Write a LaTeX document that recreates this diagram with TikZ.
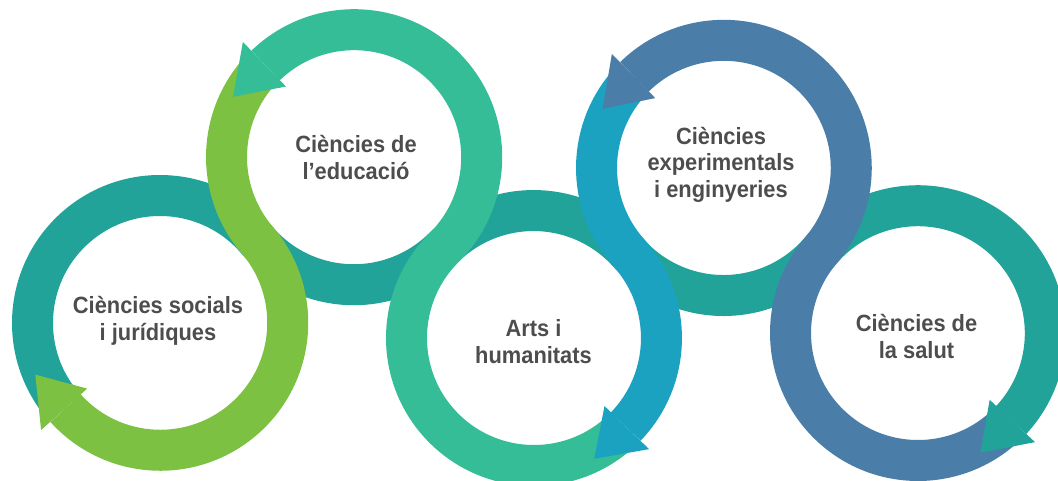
\documentclass[tikz,border=0pt]{standalone}
\usepackage{fontspec}
\newfontfamily\labfont{Liberation Sans}[FakeStretch=0.93]
\usetikzlibrary{calc}
\definecolor{cteal}{RGB}{33,163,154}
\definecolor{cgreen}{RGB}{125,193,66}
\definecolor{cmint}{RGB}{52,189,151}
\definecolor{ccyan}{RGB}{28,162,193}
\definecolor{csteel}{RGB}{75,125,169}
\definecolor{ctext}{RGB}{77,77,77}
\newcommand\ringhead[4]{%
  \fill[#4] ($(#1)+(#2:98)$) -- ($(#1)+(#2:160)$) -- ($(#1)+(#3:135)$) -- cycle;}
\begin{document}
\begin{tikzpicture}[x=1pt,y=-1pt,
  band/.style={line width=41pt},
  ringtext/.style={font=\labfont\bfseries\fontsize{23.5}{26.5}\selectfont,
    text=ctext, align=center, anchor=base, inner sep=0pt}]
\useasboundingbox (0,0) rectangle (1058,481);
\clip (0,0) rectangle (1058,481);
\coordinate (C1) at (160,323);
\coordinate (C2) at (354,157);
\coordinate (C3) at (534,338);
\coordinate (C4) at (724,168);
\coordinate (C5) at (918,333);
% teal wave
\draw[band, cteal] ($(C1)+(140:127.5)$)
  arc[start angle=140, end angle=319.45, radius=127.5]
  arc[start angle=139.45, end angle=45.16, radius=127.5]
  arc[start angle=225.16, end angle=318.18, radius=127.5]
  arc[start angle=138.18, end angle=40.38, radius=127.5]
  arc[start angle=220.38, end angle=403, radius=127.5];
% green
\draw[band, cgreen] ($(C2)+(224:127.5)$)
  arc[start angle=224, end angle=139.45, radius=127.5]
  arc[start angle=319.45, end angle=498, radius=127.5];
\ringhead{C1}{138}{157.5}{cgreen}
% mint
\draw[band, cmint] ($(C3)+(46:127.5)$)
  arc[start angle=46, end angle=225.16, radius=127.5]
  arc[start angle=45.16, end angle=-134, radius=127.5];
\ringhead{C2}{-134}{-153.5}{cmint}
% cyan
\draw[band, ccyan] ($(C4)+(223.5:127.5)$)
  arc[start angle=223.5, end angle=138.18, radius=127.5]
  arc[start angle=318.18, end angle=404, radius=127.5];
\ringhead{C3}{44}{63.5}{ccyan}
% steel
\draw[band, csteel] ($(C5)+(45:127.5)$)
  arc[start angle=45, end angle=220.38, radius=127.5]
  arc[start angle=40.38, end angle=-134.5, radius=127.5];
\ringhead{C4}{-134.5}{-154}{csteel}
\ringhead{C5}{43}{62.5}{cteal}
% texts (anchor = baseline of the last line)
\node[ringtext] (t1) at (158,340) {Ciències socials\\i jurídiques};
\node[ringtext] (t2) at (356,179.5) {Ciències de\\l’educació};
\node[ringtext] (t3) at (533.5,363) {Arts i\\humanitats};
\node[ringtext] (t4) at (721,197.5) {Ciències\\experimentals\\i enginyeries};
\node[ringtext] (t5) at (916.5,358) {Ciències de\\la salut};
\end{tikzpicture}
\end{document}
